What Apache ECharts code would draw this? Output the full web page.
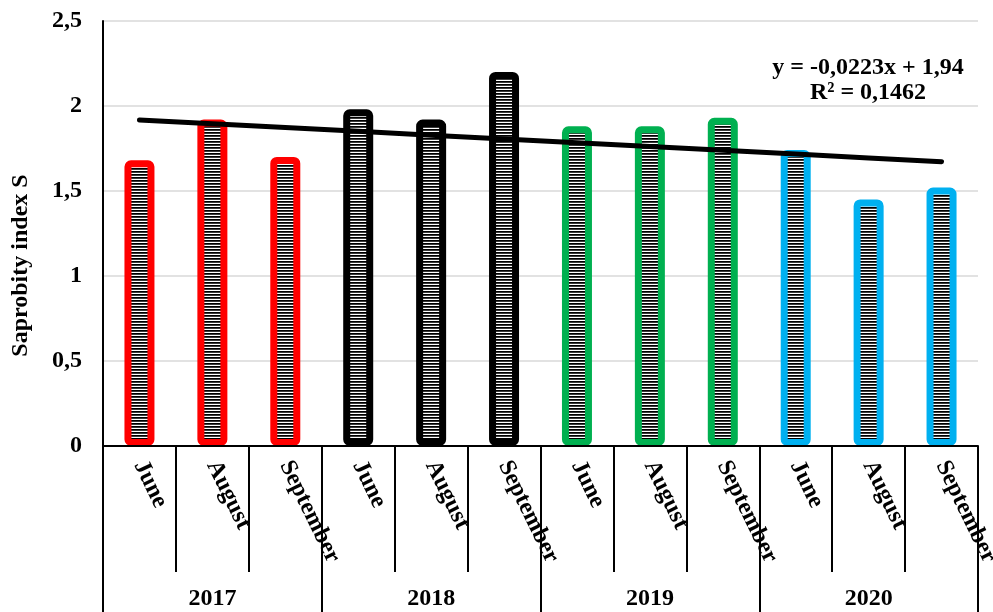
<!DOCTYPE html>
<html>
<head>
<meta charset="utf-8">
<script src="https://cdn.jsdelivr.net/npm/echarts@6/dist/echarts.min.js"></script>
<style>
  html, body { margin: 0; padding: 0; background: #fff; overflow: hidden; }
  #chart { width: 993px; height: 612px; }
</style>
</head>
<body>
<div id="chart"></div>
<script>
// Sampling months and years
const months = ['June', 'August', 'September', 'June', 'August', 'September',
                'June', 'August', 'September', 'June', 'August', 'September'];
const years = ['2017', '2018', '2019', '2020'];

// Saprobity index S per sampling
const saprobity = [1.66, 1.90, 1.68, 1.96, 1.90, 2.18, 1.86, 1.86, 1.91, 1.72, 1.43, 1.50];

// Linear trend reported for the series
const trendSlope = -0.0223;
const trendIntercept = 1.94;
const trendR2 = 0.1462;

// Y-axis ticks
const yTicks = [0, 0.5, 1, 1.5, 2, 2.5];

const yearColors = ['#FF0000', '#000000', '#00B050', '#00B0F0'];
const FONT = '"Liberation Serif", "Times New Roman", serif';
const FS = 24;

// Horizontal hatch used to fill the bars
function hatchPattern() {
  const c = document.createElement('canvas');
  c.width = 4; c.height = 3;
  const ctx = c.getContext('2d');
  ctx.fillStyle = '#ffffff';
  ctx.fillRect(0, 0, 4, 3);
  ctx.fillStyle = '#000000';
  ctx.fillRect(0, 0, 4, 1);
  ctx.fillStyle = '#3a3a3a';
  ctx.fillRect(0, 1, 4, 1);
  return c;
}
const hatchImage = hatchPattern();

const comma = v => String(v).replace('.', ',');

const BAR_W = 23;      // bar body width, the outline is centred on its edges
const BAR_LINE = 7;    // outline thickness

const barData = saprobity.map((v, i) => [i, v, Math.floor(i / 3)]);
const trendData = months.map((m, i) => +(trendSlope * (i + 1) + trendIntercept).toFixed(4));

const chart = echarts.init(document.getElementById('chart'), null, { renderer: 'canvas' });

chart.setOption({
  animation: false,
  backgroundColor: '#ffffff',
  grid: { left: 103, right: 15, top: 21, bottom: 166, containLabel: false, outerBoundsMode: 'none' },
  xAxis: [
    {
      type: 'category',
      data: months,
      position: 'bottom',
      boundaryGap: true,
      z: 5,
      axisLine: { show: true, lineStyle: { color: '#000', width: 2 } },
      axisTick: { show: true, interval: 0, length: 126, lineStyle: { color: '#000', width: 2 } },
      axisLabel: {
        interval: 0, rotate: -64, margin: 16,
        color: '#000', fontFamily: FONT, fontWeight: 'bold', fontSize: FS
      },
      splitLine: { show: false }
    },
    {
      type: 'category',
      data: years,
      position: 'bottom',
      boundaryGap: true,
      axisLine: { show: false },
      axisTick: { show: true, interval: 0, length: 170, lineStyle: { color: '#000', width: 2 } },
      axisLabel: {
        interval: 0, margin: 141,
        color: '#000', fontFamily: FONT, fontWeight: 'bold', fontSize: FS
      },
      splitLine: { show: false }
    }
  ],
  yAxis: {
    type: 'value',
    min: yTicks[0],
    max: yTicks[yTicks.length - 1],
    interval: 0.5,
    name: 'Saprobity index S',
    nameLocation: 'middle',
    nameRotate: 90,
    nameGap: 70,
    nameTextStyle: {
      color: '#000', fontFamily: FONT, fontWeight: 'bold', fontSize: FS,
      padding: [0, 64, 0, 0]
    },
    axisLine: { show: true, lineStyle: { color: '#000', width: 2 } },
    axisTick: { show: false },
    axisLabel: {
      margin: 21, color: '#000', fontFamily: FONT, fontWeight: 'bold', fontSize: FS,
      formatter: v => comma(v)
    },
    splitLine: { show: true, lineStyle: { color: '#d9d9d9', width: 1.5 } }
  },
  series: [
    {
      // hatched columns with a thick coloured outline
      type: 'custom',
      xAxisIndex: 0,
      data: barData,
      encode: { x: 0, y: 1 },
      z: 2,
      renderItem: function (params, api) {
        const top = api.coord([api.value(0), api.value(1)]);
        const base = api.coord([api.value(0), 0]);
        const h = base[1] - top[1] - BAR_LINE / 2;
        return {
          type: 'rect',
          shape: { x: top[0] - BAR_W / 2, y: top[1], width: BAR_W, height: h, r: 3 },
          style: {
            fill: { image: hatchImage, repeat: 'repeat' },
            stroke: yearColors[api.value(2)],
            lineWidth: BAR_LINE
          }
        };
      }
    },
    {
      type: 'line',
      xAxisIndex: 0,
      data: trendData,
      symbol: 'none',
      lineStyle: { color: '#000', width: 5, cap: 'round' },
      z: 3
    }
  ],
  graphic: [
    {
      type: 'text',
      x: 868,
      y: 80,
      z: 10,
      style: {
        text: 'y = ' + comma(trendSlope) + 'x + ' + comma(trendIntercept) + '\nR² = ' + comma(trendR2),
        fill: '#000',
        font: 'bold ' + FS + 'px ' + FONT,
        textAlign: 'center',
        textVerticalAlign: 'middle',
        lineHeight: 25
      }
    }
  ]
});
</script>
</body>
</html>
